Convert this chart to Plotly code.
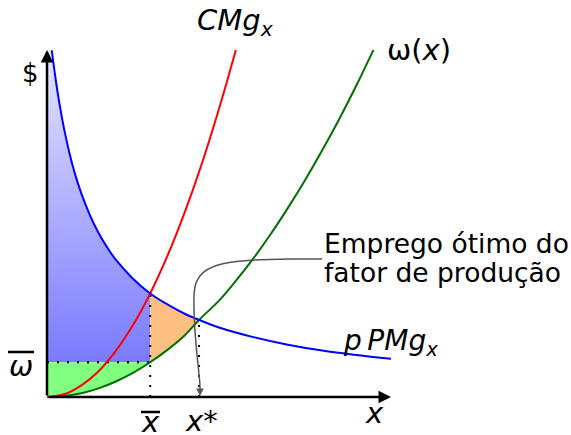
import plotly.graph_objects as go

# values (x in "units", y in "$")
x_bar = 3.0          # x with overline
x_star = 4.42        # x*
w_bar = 1.01         # omega with overline
y_top = 10.09        # top of the $ axis
x_end = 10.0         # end of the x axis

# omega(x)
w_x = [0, 0.5, 1, 1.5, 2, 2.5, 3, 3.5, 4, 4.42, 5, 5.5, 6, 6.5, 7, 7.5, 8, 8.5, 9, 9.49]
w_y = [0, 0.03, 0.11, 0.25, 0.45, 0.70, 1.01, 1.37, 1.79, 2.24, 2.80, 3.39, 4.03, 4.73, 5.49, 6.30, 7.17, 8.09, 9.07, 10.09]

# CMg_x
c_x = [0, 0.5, 1, 1.5, 2, 2.5, 3, 3.5, 4, 4.5, 5, 5.49]
c_y = [0, 0.08, 0.34, 0.75, 1.34, 2.09, 3.01, 4.10, 5.36, 6.78, 8.38, 10.09]

# p PMg_x
p_x = [0.14, 0.2, 0.3, 0.4, 0.5, 0.65, 0.8, 1, 1.25, 1.5, 1.75, 2, 2.5, 3, 3.5, 4, 4.42, 5, 6, 7, 8, 9, 10]
p_y = [10.08, 9.61, 8.91, 8.31, 7.78, 7.10, 6.53, 5.91, 5.28, 4.77, 4.35, 3.99, 3.44, 3.01, 2.69, 2.42, 2.24, 2.02, 1.74, 1.52, 1.35, 1.22, 1.11]

SCALE = 34.4
OX, OY = 47, 397


def dx(px):
    return (px - OX) / SCALE


def dy(py):
    return (OY - py) / SCALE


fig = go.Figure()

# blue gradient area under p PMg, above omega bar, left of x bar
bx = [0] + [x for x in p_x if x <= x_bar] + [x_bar, 0]
by = [y_top] + [y for x, y in zip(p_x, p_y) if x <= x_bar] + [w_bar, w_bar]
fig.add_trace(go.Scatter(x=bx, y=by, mode="lines", line=dict(width=0), fill="toself",
                         fillgradient=dict(type="vertical",
                                           colorscale=[[0, "#7a7aff"], [1, "#e6e6ff"]]),
                         hoverinfo="skip"))

# green area
gx = [0, 0, x_bar] + [x for x in reversed(w_x) if x <= x_bar]
gy = [0, w_bar, w_bar] + [y for x, y in zip(reversed(w_x), reversed(w_y)) if x <= x_bar]
fig.add_trace(go.Scatter(x=gx, y=gy, mode="lines", line=dict(width=0), fill="toself",
                         fillcolor="#80ff80", hoverinfo="skip"))

# orange area
ox = [x for x in p_x if x_bar <= x <= x_star] + [x for x in reversed(w_x) if x_bar <= x <= x_star]
oy = [y for x, y in zip(p_x, p_y) if x_bar <= x <= x_star] + \
     [y for x, y in zip(reversed(w_x), reversed(w_y)) if x_bar <= x <= x_star]
fig.add_trace(go.Scatter(x=ox, y=oy, mode="lines", line=dict(width=0), fill="toself",
                         fillcolor="#ffbf80", hoverinfo="skip"))

# dotted guides
dot = dict(color="black", width=2, dash="2px,8px")
fig.add_trace(go.Scatter(x=[0, x_bar], y=[w_bar, w_bar], mode="lines", line=dot))
fig.add_trace(go.Scatter(x=[x_bar, x_bar], y=[0, 3.01], mode="lines", line=dot))
fig.add_trace(go.Scatter(x=[x_star, x_star], y=[0, 2.24], mode="lines", line=dot))

# curves
fig.add_trace(go.Scatter(x=w_x, y=w_y, mode="lines", line=dict(color="#007000", width=2, shape="spline")))
fig.add_trace(go.Scatter(x=c_x, y=c_y, mode="lines", line=dict(color="#ff0000", width=2, shape="spline")))
fig.add_trace(go.Scatter(x=p_x, y=p_y, mode="lines", line=dict(color="#0000ff", width=2, shape="spline")))

# callout curve
path = "M {},{} L {},{} C {},{} {},{} {},{} C {},{} {},{} {},{}".format(
    dx(322), dy(259), dx(290), dy(259),
    dx(225), dy(260), dx(195), dy(262), dx(194), dy(295),
    dx(193), dy(330), dx(198), dy(360), dx(200), dy(385))
fig.add_shape(type="path", path=path, xref="x", yref="y",
              line=dict(color="#555555", width=1.5))
fig.add_annotation(x=dx(200), y=dy(396), ax=dx(200), ay=dy(384), xref="x", yref="y",
                   axref="x", ayref="y", showarrow=True, arrowhead=2, arrowsize=1,
                   arrowwidth=1.5, arrowcolor="#555555", text="")

# axes arrows
fig.add_annotation(x=0, y=y_top, ax=0, ay=0, xref="x", yref="y", axref="x", ayref="y",
                   showarrow=True, arrowhead=2, arrowsize=1, arrowwidth=2.5,
                   arrowcolor="black", text="")
fig.add_annotation(x=x_end, y=0, ax=0, ay=0, xref="x", yref="y", axref="x", ayref="y",
                   showarrow=True, arrowhead=2, arrowsize=1, arrowwidth=2.5,
                   arrowcolor="black", text="")

# overlines
fig.add_shape(type="line", x0=dx(8), x1=dx(34), y0=dy(352), y1=dy(352),
              line=dict(color="black", width=2.5))
fig.add_shape(type="line", x0=dx(141), x1=dx(160), y0=dy(412), y1=dy(412),
              line=dict(color="black", width=2.5))

FONT = "DejaVu Sans"


def label(px, py, text, size=26, xanchor="center"):
    fig.add_annotation(x=dx(px), y=dy(py), xref="x", yref="y", text=text,
                       showarrow=False, xanchor=xanchor, yanchor="middle",
                       font=dict(family=FONT, size=size, color="black"))


label(30, 73, "$", 26)
label(21, 366, "<i>ω</i>", 29)
label(150, 422, "<i>x</i>", 29)
label(201, 421, "<i>x</i>*", 29)
label(374, 413, "<i>x</i>", 29)
label(235, 22, "<i>CMg</i><sub><i>x</i></sub>", 29)
label(419, 50, "ω(<i>x</i>)", 29)
label(390, 342, "<i>p\u2009PMg</i><sub><i>x</i></sub>", 28)
label(322, 243, "Emprego ótimo do", 26.5, "left")
label(322, 272, "fator de produção", 26.5, "left")

fig.update_layout(width=571, height=435, margin=dict(l=0, r=0, t=0, b=0),
                  paper_bgcolor="white", plot_bgcolor="white", showlegend=False,
                  xaxis=dict(range=[dx(0), dx(571)], visible=False, fixedrange=True),
                  yaxis=dict(range=[dy(435), dy(0)], visible=False, fixedrange=True))

fig.write_html("out.html", config={"displayModeBar": False},
               post_script="document.body.style.margin='0';document.body.style.overflow='hidden';")
